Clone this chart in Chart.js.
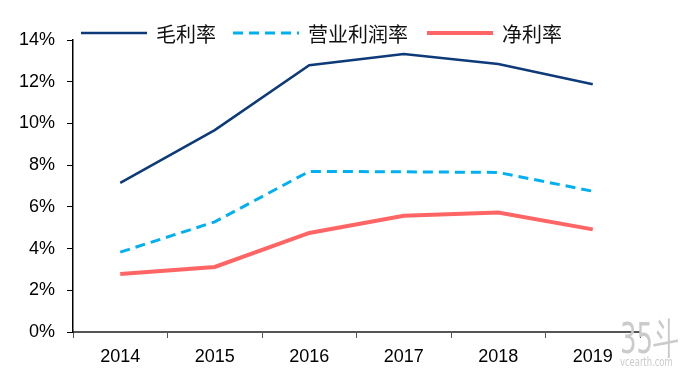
<!DOCTYPE html>
<html>
<head>
<meta charset="utf-8">
<script src="https://cdn.jsdelivr.net/npm/chart.js@4.4.0/dist/chart.umd.min.js"></script>
<style>
  html, body { margin: 0; padding: 0; background: #fff; }
  #wrap { width: 684px; height: 376px; position: relative; }
</style>
</head>
<body>
<div id="wrap"><canvas id="marginChart"></canvas></div>
<script>
// data (%)
const years = ['2014', '2015', '2016', '2017', '2018', '2019'];
const grossMargin = [7.15, 9.68, 12.79, 13.33, 12.85, 11.88];
const operatingMargin = [3.83, 5.28, 7.70, 7.68, 7.65, 6.75];
const netMargin = [2.78, 3.12, 4.75, 5.57, 5.73, 4.92];
const seriesNames = ['毛利率', '营业利润率', '净利率'];

// legend drawn across the top, like the original
const topLegend = {
    id: 'topLegend',
    afterDraw(chart) {
        const c = chart.ctx;
        const lineStarts = [81, 233, 427];
        const y = 33;
        chart.data.datasets.forEach((ds, i) => {
            const x = lineStarts[i];
            c.save();
            c.strokeStyle = ds.borderColor;
            c.lineWidth = ds.borderWidth;
            c.setLineDash(ds.borderDash || []);
            c.beginPath();
            c.moveTo(x, y);
            c.lineTo(x + 66, y);
            c.stroke();
            c.setLineDash([]);
            c.fillStyle = '#111';
            c.font = '20px "Noto Sans CJK SC"';
            c.textBaseline = 'middle';
            c.fillText(ds.label, x + 75, y + 1);
            c.restore();
        });
    }
};

// faint site watermark bottom right
const watermark = {
    id: 'watermark',
    afterDraw(chart) {
        const c = chart.ctx;
        c.save();
        c.fillStyle = '#cbcbcb';
        c.textBaseline = 'alphabetic';
        c.translate(620, 353);
        c.scale(0.62, 1);
        c.font = '42px "DejaVu Sans", sans-serif';
        c.fillText('35斗', 0, 0);
        c.restore();
        c.save();
        c.fillStyle = '#cbcbcb';
        c.translate(620, 366);
        c.scale(0.7, 1);
        c.font = '12px "DejaVu Sans", sans-serif';
        c.fillText('vcearth.com', 0, 0);
        c.restore();
    }
};

const ctx = document.getElementById('marginChart').getContext('2d');
const marginChart = new Chart(ctx, {
    type: 'line',
    data: {
        labels: years,
        datasets: [{
            label: seriesNames[0],
            data: grossMargin,
            borderColor: '#0d3a78',
            borderWidth: 2.5,
            pointRadius: 0,
            fill: false
        }, {
            label: seriesNames[1],
            data: operatingMargin,
            borderColor: '#00b0f0',
            borderWidth: 3,
            borderDash: [10, 6],
            pointRadius: 0,
            fill: false
        }, {
            label: seriesNames[2],
            data: netMargin,
            borderColor: '#ff6565',
            borderWidth: 4,
            pointRadius: 0,
            fill: false
        }]
    },
    options: {
        responsive: true,
        maintainAspectRatio: false,
        animation: false,
        layout: {
            padding: { top: 40, right: 44, bottom: 0, left: 0 }
        },
        plugins: {
            legend: { display: false },
            tooltip: { enabled: false }
        },
        scales: {
            x: {
                offset: true,
                afterFit: (scale) => { scale.height = 44; },
                grid: {
                    offset: true,
                    drawOnChartArea: false,
                    drawTicks: true,
                    tickLength: 6,
                    color: '#555'
                },
                border: { color: '#555', width: 2 },
                ticks: {
                    color: '#000',
                    padding: 8,
                    font: { family: '"Liberation Sans", Arial', size: 18 },
                    maxRotation: 0
                }
            },
            y: {
                min: 0,
                max: 14,
                afterFit: (scale) => { scale.width = 73; },
                grid: {
                    drawOnChartArea: false,
                    drawTicks: true,
                    tickLength: 6,
                    color: '#000'
                },
                border: { color: '#000', width: 1.5 },
                ticks: {
                    stepSize: 2,
                    color: '#000',
                    padding: 12,
                    font: { family: '"Liberation Sans", Arial', size: 18 },
                    callback: (v) => v + '%'
                }
            }
        }
    },
    plugins: [topLegend, watermark]
});
</script>
</body>
</html>
